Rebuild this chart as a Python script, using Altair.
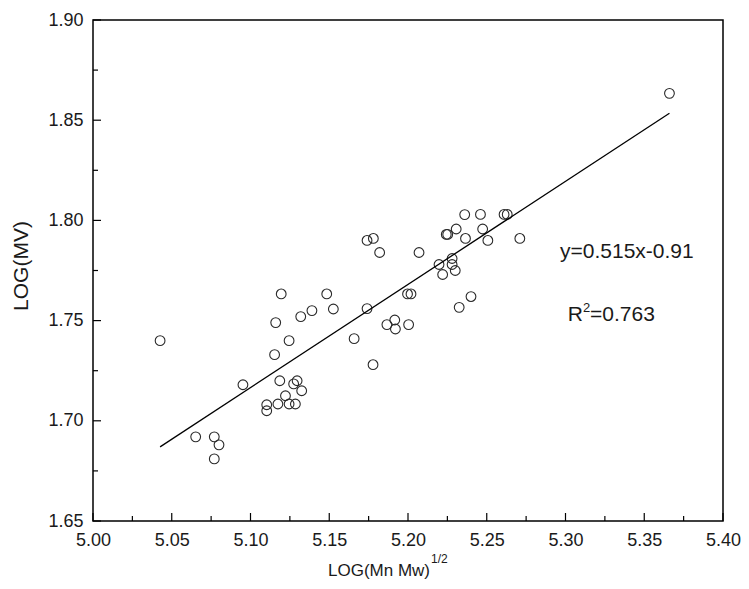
import altair as alt
import pandas as pd

# ---- data ----
x_vals = [5.0426, 5.0652, 5.077, 5.080, 5.077, 5.0952, 5.1103, 5.1103, 5.1174, 5.1245,
          5.1285, 5.1222, 5.1186, 5.1274, 5.1296, 5.1325, 5.1153, 5.1245, 5.116, 5.1195,
          5.1319, 5.139, 5.1484, 5.1526, 5.1658, 5.174, 5.1778, 5.1866, 5.1916, 5.192,
          5.2004, 5.1997, 5.2019, 5.174, 5.178, 5.182, 5.207, 5.2197, 5.228, 5.228,
          5.230, 5.222, 5.2243, 5.2252, 5.2306, 5.2365, 5.236, 5.246, 5.2474, 5.2507,
          5.261, 5.263, 5.271, 5.240, 5.2325, 5.366]
y_vals = [1.740, 1.692, 1.692, 1.688, 1.681, 1.718, 1.708, 1.705, 1.7084, 1.7084,
          1.7084, 1.7125, 1.720, 1.7184, 1.720, 1.715, 1.733, 1.740, 1.749, 1.7633,
          1.752, 1.755, 1.7633, 1.7558, 1.741, 1.756, 1.728, 1.748, 1.7503, 1.7458,
          1.748, 1.7633, 1.7633, 1.790, 1.791, 1.784, 1.784, 1.778, 1.781, 1.778,
          1.775, 1.773, 1.793, 1.793, 1.7957, 1.791, 1.8029, 1.803, 1.7957, 1.790,
          1.803, 1.803, 1.791, 1.762, 1.7566, 1.8634]

fit_x = [5.0426, 5.366]
fit_y = [1.687, 1.8535]

x_major = [5.00, 5.05, 5.10, 5.15, 5.20, 5.25, 5.30, 5.35, 5.40]
x_minor = [5.025, 5.075, 5.125, 5.175, 5.225, 5.275, 5.325, 5.375]
y_major = [1.65, 1.70, 1.75, 1.80, 1.85, 1.90]
y_minor = [1.675, 1.725, 1.775, 1.825, 1.875]

x_title = "LOG(Mn Mw)"
x_title_sup = "1/2"
y_title = "LOG(MV)"
eq_text = "y=0.515x-0.91"
r2_main = "R"
r2_sup = "2"
r2_rest = "=0.763"

# ---- layout ----
W, H = 630, 501
FONT = "Liberation Sans"
xs = alt.Scale(domain=[5.0, 5.4], nice=False, zero=False)
ys = alt.Scale(domain=[1.65, 1.90], nice=False, zero=False)

x_axis = alt.Axis(values=x_major, format=".2f", title=None, ticks=False, tickSize=0,
                  domain=False, grid=False, labelFont=FONT, labelFontSize=18,
                  labelColor="#1a1a1a", labelPadding=10, labelFlush=False)
y_axis = alt.Axis(values=y_major, format=".2f", title=None, ticks=False, tickSize=0,
                  domain=False, grid=False, labelFont=FONT, labelFontSize=18,
                  labelColor="#1a1a1a", labelPadding=10, labelFlush=False)

pts = pd.DataFrame({"x": x_vals, "y": y_vals})
fit = pd.DataFrame({"x": fit_x, "y": fit_y})

scatter = alt.Chart(pts).mark_point(
    shape="circle", filled=False, size=95, stroke="#2a2a2a", strokeWidth=1.1, opacity=1
).encode(
    x=alt.X("x:Q", scale=xs, axis=x_axis),
    y=alt.Y("y:Q", scale=ys, axis=y_axis),
)

line = alt.Chart(fit).mark_line(color="black", strokeWidth=1.3).encode(
    x=alt.X("x:Q", scale=xs, axis=x_axis),
    y=alt.Y("y:Q", scale=ys, axis=y_axis),
)

xmaj = alt.Chart(pd.DataFrame({"x": x_major})).mark_rule(color="black", strokeWidth=1.2).encode(
    x=alt.X("x:Q", scale=xs, axis=x_axis), y=alt.value(H), y2=alt.value(H - 8))
xmin = alt.Chart(pd.DataFrame({"x": x_minor})).mark_rule(color="black", strokeWidth=1.2).encode(
    x=alt.X("x:Q", scale=xs, axis=x_axis), y=alt.value(H), y2=alt.value(H - 5))
ymaj = alt.Chart(pd.DataFrame({"y": y_major})).mark_rule(color="black", strokeWidth=1.2).encode(
    y=alt.Y("y:Q", scale=ys, axis=y_axis), x=alt.value(0), x2=alt.value(8))
ymin = alt.Chart(pd.DataFrame({"y": y_minor})).mark_rule(color="black", strokeWidth=1.2).encode(
    y=alt.Y("y:Q", scale=ys, axis=y_axis), x=alt.value(0), x2=alt.value(5))


def label(txt, x, y, size, align="left", baseline="alphabetic", angle=0):
    kw = dict(font=FONT, fontSize=size, align=align, baseline=baseline, color="#1a1a1a")
    if angle:
        kw["angle"] = angle
    return alt.Chart(pd.DataFrame({"t": [txt]})).mark_text(**kw).encode(
        x=alt.value(x), y=alt.value(y), text="t:N")


texts = [
    label(x_title, 337, 556, 17, align="right"),
    label(x_title_sup, 338, 543, 12, align="left"),
    label(y_title, -71, 246, 21, align="center", baseline="middle", angle=270),
    label(eq_text, 467, 238, 21, align="left"),
    label(r2_main, 490, 301, 21, align="right"),
    label(r2_sup, 490, 292, 13, align="left"),
    label(r2_rest, 497, 301, 21, align="left"),
]

chart = alt.layer(scatter, line, xmaj, xmin, ymaj, ymin, *texts).properties(
    width=W, height=H,
    autosize=alt.AutoSizeParams(type="none"),
    padding={"left": 85, "top": 12, "right": 18, "bottom": 60},
    background="white",
).configure_view(stroke="black", strokeWidth=1.5)

chart.save("out.html", embed_options={"renderer": "svg", "actions": False})
